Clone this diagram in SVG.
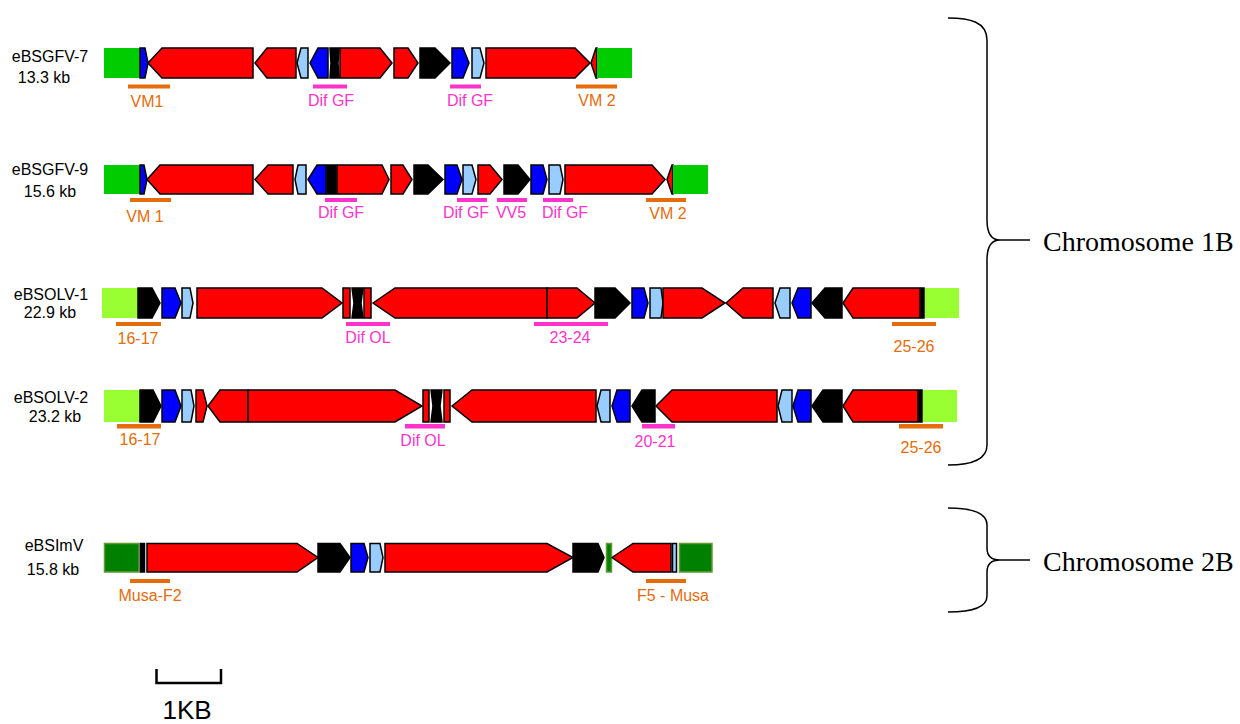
<svg xmlns="http://www.w3.org/2000/svg" width="1240" height="724" viewBox="0 0 1240 724">
<style>
.r{fill:#ff0000;stroke:#000;stroke-width:1.5;stroke-linejoin:miter}
.b{fill:#0000ff;stroke:#000;stroke-width:1.5}
.lb{fill:#99ccff;stroke:#000;stroke-width:1.5}
.k{fill:#000;stroke:#000;stroke-width:1.5}
.g{fill:#00cc00}
.lg{fill:#99ff33}
.dg{fill:#008000;stroke:#669933;stroke-width:1.5}
.ob{fill:#e46c0a}
.pb{fill:#ff33cc}
.lab{font-family:"Liberation Sans",Arial,sans-serif;font-size:16px;fill:#000;text-anchor:middle}
.ot{font-family:"Liberation Sans",Arial,sans-serif;font-size:16px;fill:#e46c0a;text-anchor:middle}
.pt{font-family:"Liberation Sans",Arial,sans-serif;font-size:16px;fill:#ff33cc;text-anchor:middle}
.chr{font-family:"Liberation Serif","Times New Roman",serif;font-size:28px;fill:#000}
.br{fill:none;stroke:#000;stroke-width:1.5}
</style>

<g id="row-eBSGFV-7">
<text class="lab" x="50" y="62">eBSGFV-7</text>
<text class="lab" x="44" y="83">13.3 kb</text>
<rect class="g" x="104" y="48" width="36" height="30"/>
<polygon class="b" points="140,48 145,48 148,63 145,78 140,78"/>
<polygon class="r" points="148,63 162,48 253,48 253,78 162,78"/>
<polygon class="r" points="255,63 267,48 296,48 296,78 267,78"/>
<polygon class="lb" points="297,63 301,48 308,48 308,78 301,78"/>
<polygon class="b" points="310,63 318,48 328,48 328,78 318,78"/>
<polygon class="k" points="330,48 339,48 338,63 339,78 330,78 331,63"/>
<polygon class="r" points="340,48 380,48 392,63 380,78 340,78"/>
<polygon class="r" points="394,48 408,48 418,63 408,78 394,78"/>
<polygon class="k" points="420,48 435,48 450,63 435,78 420,78"/>
<polygon class="b" points="452,48 463,48 469,63 463,78 452,78"/>
<polygon class="lb" points="472,48 480,48 484,63 480,78 472,78"/>
<polygon class="r" points="486,48 575,48 590,63 575,78 486,78"/>
<polygon class="r" points="591,63 596,48 597,48 597,78 596,78"/>
<rect class="g" x="597" y="48" width="35" height="30"/>
<rect class="ob" x="128" y="84.5" width="42" height="4"/>
<text class="ot" x="147" y="107">VM1</text>
<rect class="pb" x="313" y="84.5" width="34" height="4"/>
<text class="pt" x="331" y="106">Dif GF</text>
<rect class="pb" x="450" y="84.5" width="31" height="4"/>
<text class="pt" x="470" y="106">Dif GF</text>
<rect class="ob" x="576" y="84.5" width="41" height="4"/>
<text class="ot" x="597" y="106">VM 2</text>
</g>

<g id="row-eBSGFV-9">
<text class="lab" x="50" y="175">eBSGFV-9</text>
<text class="lab" x="50" y="197">15.6 kb</text>
<rect class="g" x="104" y="165" width="36" height="29"/>
<polygon class="b" points="140,165 144,165 147,179.5 144,194 140,194"/>
<polygon class="r" points="147,179.5 160,165 253,165 253,194 160,194"/>
<polygon class="r" points="255,179.5 268,165 293,165 293,194 268,194"/>
<polygon class="lb" points="295,179.5 298,165 306,165 306,194 298,194"/>
<polygon class="b" points="308,179.5 317,165 326,165 326,194 317,194"/>
<rect class="k" x="327" y="165" width="9" height="29"/>
<polygon class="r" points="337,165 382,165 389,179.5 382,194 337,194"/>
<polygon class="r" points="391,165 403,165 412,179.5 403,194 391,194"/>
<polygon class="k" points="414,165 428,165 443,179.5 428,194 414,194"/>
<polygon class="b" points="445,165 457,165 462,179.5 457,194 445,194"/>
<polygon class="lb" points="463,165 472,165 476,179.5 472,194 463,194"/>
<polygon class="r" points="478,165 490,165 502,179.5 490,194 478,194"/>
<polygon class="k" points="504,165 518,165 530,179.5 518,194 504,194"/>
<polygon class="b" points="531,165 543,165 547,179.5 543,194 531,194"/>
<polygon class="lb" points="549,165 560,165 563,179.5 560,194 549,194"/>
<polygon class="r" points="565,165 652,165 665,179.5 652,194 565,194"/>
<polygon class="r" points="667,179.5 672,165 673,165 673,194 672,194"/>
<rect class="g" x="673" y="165" width="35" height="29"/>
<rect class="ob" x="130" y="198" width="41" height="4"/>
<text class="ot" x="145" y="222">VM 1</text>
<rect class="pb" x="325" y="198" width="32" height="4"/>
<text class="pt" x="341" y="218">Dif GF</text>
<rect class="pb" x="457" y="198" width="30" height="4"/>
<text class="pt" x="466" y="218">Dif GF</text>
<rect class="pb" x="497" y="198" width="30" height="4"/>
<text class="pt" x="511" y="218">VV5</text>
<rect class="pb" x="543" y="198" width="30" height="4"/>
<text class="pt" x="565" y="218">Dif GF</text>
<rect class="ob" x="646" y="198" width="40" height="4"/>
<text class="ot" x="668" y="219">VM 2</text>
</g>

<g id="row-eBSOLV-1">
<text class="lab" x="51" y="300">eBSOLV-1</text>
<text class="lab" x="50" y="318">22.9 kb</text>
<rect class="lg" x="102" y="288" width="36" height="30"/>
<polygon class="k" points="138,288 152,288 160,303 152,318 138,318"/>
<polygon class="b" points="162,288 175,288 181,303 175,318 162,318"/>
<polygon class="lb" points="182,288 190,288 193,303 190,318 182,318"/>
<polygon class="r" points="197,288 322,288 342,303 322,318 197,318"/>
<rect class="r" x="343" y="288" width="7" height="30"/>
<polygon class="k" points="352,288 363,288 361,303 363,318 352,318 354,303"/>
<rect class="r" x="364" y="288" width="7" height="30"/>
<polygon class="r" points="373,303 395,288 547,288 547,318 395,318"/>
<polygon class="r" points="547,288 577,288 595,303 577,318 547,318"/>
<polygon class="k" points="595,288 615,288 630,303 615,318 595,318"/>
<polygon class="b" points="632,288 644,288 648,303 644,318 632,318"/>
<polygon class="lb" points="650,288 661,288 663,303 661,318 650,318"/>
<polygon class="r" points="663,288 702,288 725,303 702,318 663,318"/>
<polygon class="r" points="726,303 743,288 773,288 773,318 743,318"/>
<polygon class="lb" points="775,303 780,288 790,288 790,318 780,318"/>
<polygon class="b" points="792,303 798,288 811,288 811,318 798,318"/>
<polygon class="k" points="812,303 825,288 842,288 842,318 825,318"/>
<polygon class="r" points="843,303 853,288 920,288 920,318 853,318"/>
<rect class="k" x="921" y="288" width="3" height="30"/>
<rect class="lg" x="925" y="288" width="34" height="30"/>
<rect class="ob" x="116" y="322" width="45" height="4"/>
<text class="ot" x="138" y="344">16-17</text>
<rect class="pb" x="346" y="322" width="44" height="4"/>
<text class="pt" x="368" y="343">Dif OL</text>
<rect class="pb" x="534" y="322" width="74" height="4"/>
<text class="pt" x="570" y="343">23-24</text>
<rect class="ob" x="892" y="322" width="44" height="4"/>
<text class="ot" x="914" y="352">25-26</text>
</g>

<g id="row-eBSOLV-2">
<text class="lab" x="51" y="403">eBSOLV-2</text>
<text class="lab" x="55" y="422">23.2 kb</text>
<rect class="lg" x="104" y="390" width="36" height="32"/>
<polygon class="k" points="140,390 153,390 161,406 153,422 140,422"/>
<polygon class="b" points="162,390 175,390 181,406 175,422 162,422"/>
<polygon class="lb" points="182,390 191,390 194,406 191,422 182,422"/>
<polygon class="r" points="196,390 203,390 207,406 203,422 196,422"/>
<polygon class="r" points="208,406 220,390 248,390 248,422 220,422"/>
<polygon class="r" points="248,390 395,390 422,406 395,422 248,422"/>
<rect class="r" x="423" y="390" width="6" height="32"/>
<polygon class="k" points="431,390 442,390 440,406 442,422 431,422 433,406"/>
<rect class="r" x="444" y="390" width="6" height="32"/>
<polygon class="r" points="452,406 472,390 596,390 596,422 472,422"/>
<polygon class="lb" points="597,406 601,390 610,390 610,422 601,422"/>
<polygon class="b" points="612,406 617,390 630,390 630,422 617,422"/>
<polygon class="k" points="632,406 642,390 655,390 655,422 642,422"/>
<polygon class="r" points="656,406 672,390 777,390 777,422 672,422"/>
<polygon class="lb" points="778,406 782,390 792,390 792,422 782,422"/>
<polygon class="b" points="793,406 798,390 811,390 811,422 798,422"/>
<polygon class="k" points="812,406 823,390 842,390 842,422 823,422"/>
<polygon class="r" points="843,406 853,390 918,390 918,422 853,422"/>
<rect class="k" x="919" y="390" width="3" height="32"/>
<rect class="lg" x="923" y="390" width="34" height="32"/>
<rect class="ob" x="117" y="424" width="44" height="4.5"/>
<text class="ot" x="140" y="445">16-17</text>
<rect class="pb" x="405" y="424" width="40" height="4.5"/>
<text class="pt" x="423" y="446">Dif OL</text>
<rect class="pb" x="642" y="424" width="33" height="4.5"/>
<text class="pt" x="655" y="447">20-21</text>
<rect class="ob" x="899" y="424" width="44" height="4.5"/>
<text class="ot" x="921" y="453">25-26</text>
</g>

<g id="row-eBSImV">
<text class="lab" x="54" y="551">eBSImV</text>
<text class="lab" x="53" y="575">15.8 kb</text>
<rect class="dg" x="104.5" y="543.5" width="34.5" height="28.5"/>
<rect class="k" x="140.5" y="543.5" width="4" height="28.5"/>
<polygon class="r" points="147,543.5 297,543.5 318,557.5 297,572 147,572"/>
<polygon class="k" points="318,543.5 340,543.5 350,557.5 340,572 318,572"/>
<polygon class="b" points="351,543.5 364,543.5 368,557.5 364,572 351,572"/>
<polygon class="lb" points="370,543.5 380,543.5 383,557.5 380,572 370,572"/>
<polygon class="r" points="385,543.5 547,543.5 573,557.5 547,572 385,572"/>
<polygon class="k" points="573,543.5 598,543.5 604,557.5 598,572 573,572"/>
<rect class="dg" x="606.5" y="543.5" width="5" height="28.5"/>
<polygon class="r" points="612,557.5 633,543.5 671,543.5 671,572 633,572"/>
<rect class="lb" x="672.5" y="543.5" width="4" height="28.5"/>
<rect class="dg" x="679.5" y="543.5" width="32.5" height="28.5"/>
<rect class="ob" x="130" y="579" width="40" height="4"/>
<text class="ot" x="150" y="601">Musa-F2</text>
<rect class="ob" x="646" y="579" width="40" height="4"/>
<text class="ot" x="673" y="601">F5 - Musa</text>
</g>

<g id="chromosome-1B">
<path class="br" d="M948,18 C970,18 987,22 987,40 L987,220 C987,234 992,240 1000,240 C992,240 987,246 987,260 L987,445 C987,460 970,465 948,465"/>
<line class="br" x1="1000" y1="240" x2="1030" y2="240"/>
<text class="chr" x="1043" y="251">Chromosome 1B</text>
</g>

<g id="chromosome-2B">
<path class="br" d="M948,508 C970,508 987,512 987,525 L987,548 C987,556 992,560 1000,560 C992,560 987,564 987,572 L987,596 C987,608 970,612 948,612"/>
<line class="br" x1="1000" y1="560" x2="1030" y2="560"/>
<text class="chr" x="1043" y="571">Chromosome 2B</text>
</g>

<g id="scale-bar">
<path d="M156.5,669 L156.5,683 L221,683 L221,669" fill="none" stroke="#000" stroke-width="2.5"/>
<text x="187" y="719" font-family="'Liberation Sans',Arial,sans-serif" font-size="26" text-anchor="middle">1KB</text>
</g>
</svg>
